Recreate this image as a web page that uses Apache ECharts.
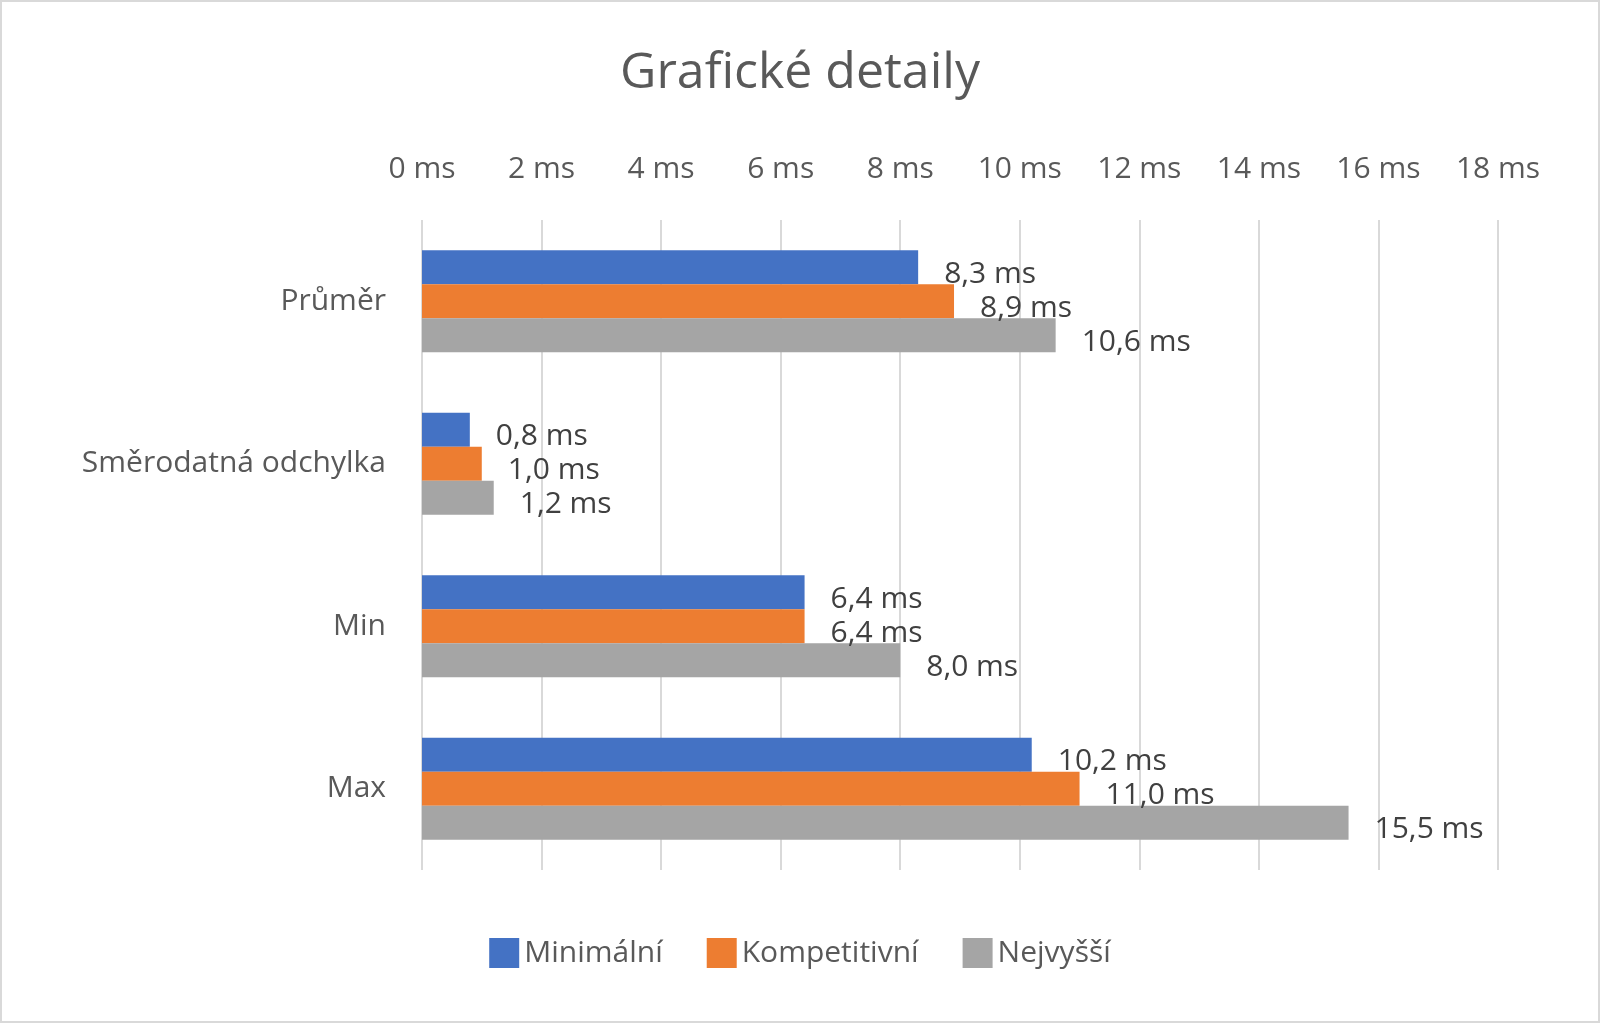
<!DOCTYPE html>
<html><head><meta charset="utf-8">
<script src="https://cdn.jsdelivr.net/npm/echarts@6/dist/echarts.min.js"></script>
<style>html,body{margin:0;padding:0;background:#fff}#c{width:1600px;height:1023px;box-sizing:border-box;border:2px solid #d9d9d9}</style>
</head><body><div id="c"></div>
<script>
const categories = ['Průměr', 'Směrodatná odchylka', 'Min', 'Max'];
const minimalni = [8.3, 0.8, 6.4, 10.2];
const kompetitivni = [8.9, 1.0, 6.4, 11.0];
const nejvyssi = [10.6, 1.2, 8.0, 15.5];
const seriesNames = ['Minimální', 'Kompetitivní', 'Nejvyšší'];
const colors = ['#4472c4', '#ed7d31', '#a5a5a5'];
const fmt = v => v.toFixed(1).replace('.', ',') + ' ms';
const chart = echarts.init(document.getElementById('c'));
const mk = (name, data, color) => ({
  name, type: 'bar', data, barWidth: 34, barGap: '0%', barCategoryGap: '38%',
  itemStyle: { color },
  label: { show: true, position: 'right', distance: 26, offset: [0, 7], fontSize: 30, color: '#404040',
    fontFamily: 'Open Sans', formatter: p => fmt(p.value) }
});
chart.setOption({
  animation: false,
  title: { text: 'Grafické detaily', left: 'center', top: 42,
    textStyle: { fontSize: 50, fontWeight: 'normal', color: '#595959', fontFamily: 'Open Sans' } },
  legend: { bottom: 48, left: 'center', itemWidth: 30, itemHeight: 30, itemGap: 44, icon: 'rect',
    textStyle: { fontSize: 30, color: '#595959', fontFamily: 'Open Sans' } },
  grid: { left: 420, right: 100, top: 218, bottom: 151 },
  xAxis: { type: 'value', position: 'top', min: 0, max: 18, interval: 2,
    axisLabel: { fontSize: 30, color: '#595959', margin: 36, fontFamily: 'Open Sans', formatter: v => v + ' ms' },
    axisLine: { show: false }, axisTick: { show: false },
    splitLine: { lineStyle: { color: '#d9d9d9', width: 2 } } },
  yAxis: { type: 'category', data: categories, inverse: true,
    axisLabel: { fontSize: 30, color: '#595959', margin: 36, fontFamily: 'Open Sans' },
    axisLine: { show: false }, axisTick: { show: false } },
  series: [mk(seriesNames[0], minimalni, colors[0]), mk(seriesNames[1], kompetitivni, colors[1]), mk(seriesNames[2], nejvyssi, colors[2])]
});
</script></body></html>
